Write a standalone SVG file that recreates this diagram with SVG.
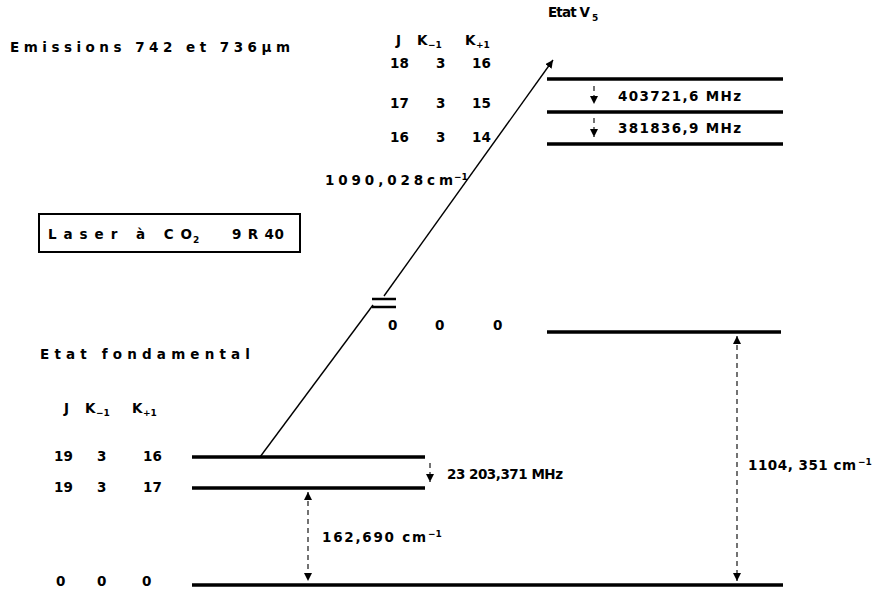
<svg xmlns="http://www.w3.org/2000/svg" width="874" height="589" viewBox="0 0 874 589">
<style>
text{font-family:"DejaVu Sans","Liberation Sans",sans-serif;font-weight:bold;font-size:13.5px;fill:#000}
.sm{font-size:9px}
.lvl{stroke:#000;stroke-width:3.5;fill:none}
.dash{stroke:#000;stroke-width:1.1;stroke-dasharray:5 4;fill:none}
.thin{stroke:#000;stroke-width:1.4;fill:none}
</style>
<defs>
<marker id="ah" viewBox="0 0 10 10" refX="10" refY="5" markerWidth="8" markerHeight="8" orient="auto-start-reverse" markerUnits="userSpaceOnUse"><path d="M0,0 L10,5 L0,10 z" fill="#000"/></marker>
</defs>
<rect width="874" height="589" fill="#fff"/>
<g id="title"><text x="10" y="52" textLength="280" lengthAdjust="spacing">Emissions  742 et 736μm</text></g>
<g id="etat-v5">
<text x="548" y="17" textLength="42" lengthAdjust="spacing">Etat V</text><text x="592" y="21" class="sm">5</text>
<text x="396" y="45">J</text>
<text x="417" y="45">K</text><text x="428" y="48" class="sm">−1</text>
<text x="465" y="45">K</text><text x="476" y="48" class="sm">+1</text>
<text x="390" y="68">18</text><text x="436" y="68">3</text><text x="472" y="68">16</text>
<text x="390" y="108">17</text><text x="436" y="108">3</text><text x="472" y="108">15</text>
<text x="390" y="142">16</text><text x="436" y="142">3</text><text x="472" y="142">14</text>
<line class="lvl" x1="547" y1="79" x2="783" y2="79"/>
<line class="lvl" x1="547" y1="112" x2="783" y2="112"/>
<line class="lvl" x1="547" y1="144" x2="783" y2="144"/>
<text x="618" y="101" textLength="123" lengthAdjust="spacing">403721,6 MHz</text>
<text x="618" y="133" textLength="123" lengthAdjust="spacing">381836,9 MHz</text>
<text x="388" y="330">0</text><text x="435" y="330">0</text><text x="493" y="330">0</text>
<line class="lvl" x1="547" y1="332" x2="781" y2="332"/>
</g>
<g id="laser">
<rect x="39" y="214" width="261" height="38" fill="none" stroke="#000" stroke-width="2"/>
<text x="48" y="239" textLength="144" lengthAdjust="spacing">Laser  à CO</text><text x="193" y="243" class="sm">2</text>
<text x="232" y="239" textLength="52" lengthAdjust="spacing">9 R 40</text>
</g>
<g id="etat-fond">
<text x="40" y="359" textLength="210" lengthAdjust="spacing">Etat fondamental</text>
<text x="64" y="413">J</text>
<text x="85" y="413">K</text><text x="96" y="416" class="sm">−1</text>
<text x="132" y="413">K</text><text x="143" y="416" class="sm">+1</text>
<text x="54" y="461">19</text><text x="97" y="461">3</text><text x="143" y="461">16</text>
<text x="54" y="492">19</text><text x="97" y="492">3</text><text x="143" y="492">17</text>
<text x="56" y="586">0</text><text x="97" y="586">0</text><text x="142" y="586">0</text>
<line class="lvl" x1="192" y1="457" x2="425" y2="457"/>
<line class="lvl" x1="192" y1="488" x2="425" y2="488"/>
<line class="lvl" x1="192" y1="585" x2="783" y2="585"/>
<text x="447" y="479" textLength="116" lengthAdjust="spacing">23 203,371 MHz</text>
</g>
<g id="connectors">
<line class="thin" x1="260" y1="457" x2="373" y2="305"/>
<line class="thin" x1="384" y1="296" x2="553" y2="60" marker-end="url(#ah)"/>
<line stroke="#000" stroke-width="2.5" x1="372" y1="299" x2="396" y2="299"/>
<line stroke="#000" stroke-width="2.5" x1="372" y1="307" x2="396" y2="307"/>
<text x="325" y="185" textLength="128" lengthAdjust="spacing">1090,028cm</text><text x="454" y="180" class="sm">−1</text>
<line class="dash" x1="594" y1="86" x2="594" y2="104" marker-end="url(#ah)"/>
<line class="dash" x1="594" y1="118" x2="594" y2="137" marker-end="url(#ah)"/>
<line class="dash" x1="430" y1="463" x2="430" y2="482" marker-end="url(#ah)"/>
<line class="dash" x1="308" y1="492" x2="308" y2="581" marker-start="url(#ah)" marker-end="url(#ah)"/>
<text x="322" y="542" textLength="104" lengthAdjust="spacing">162,690 cm</text><text x="428" y="537" class="sm">−1</text>
<line class="dash" x1="737" y1="336" x2="737" y2="581" marker-start="url(#ah)" marker-end="url(#ah)"/>
<text x="748" y="470" textLength="108" lengthAdjust="spacing">1104, 351 cm</text><text x="858" y="465" class="sm">−1</text>
</g>
</svg>
